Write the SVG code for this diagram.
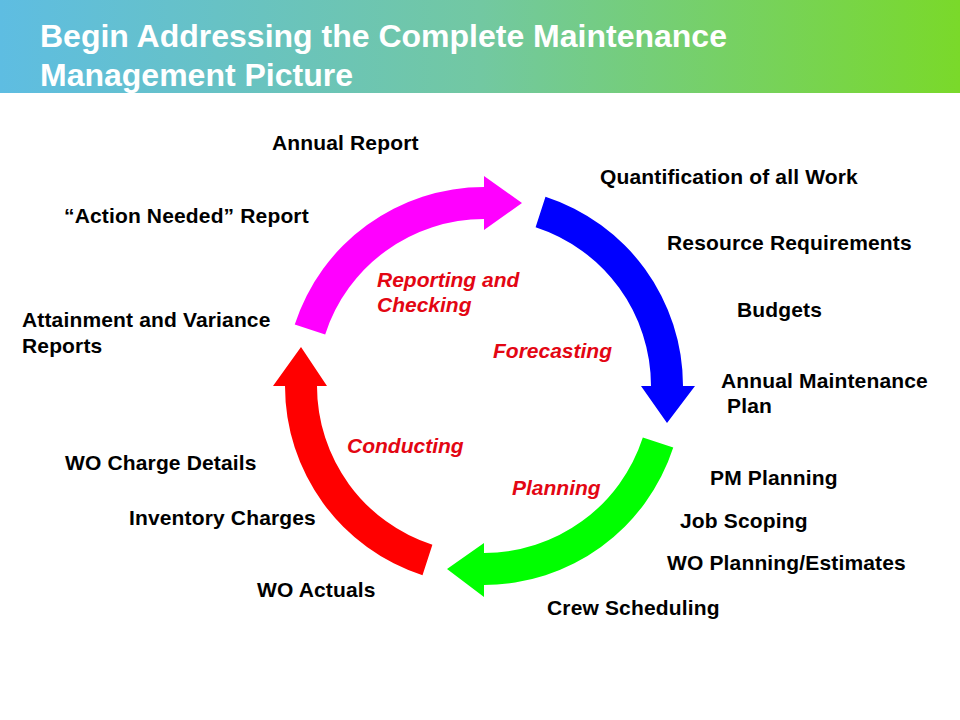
<svg xmlns="http://www.w3.org/2000/svg" width="960" height="720" viewBox="0 0 960 720">
<defs>
<linearGradient id="hdr" x1="0" y1="0" x2="1" y2="0">
<stop offset="0" stop-color="#5ebde2"/>
<stop offset="0.5" stop-color="#72c8a2"/>
<stop offset="1" stop-color="#7ad92a"/>
</linearGradient>
<style>
.t{font-family:"Liberation Sans",Arial,sans-serif;font-weight:bold;font-size:21px;letter-spacing:0.15px;fill:#000}
.s{font-family:"Liberation Sans",Arial,sans-serif;font-weight:bold;font-style:italic;font-size:21px;fill:#e30613}
.h{font-family:"Liberation Sans",Arial,sans-serif;font-weight:bold;font-size:32px;fill:#fff}
</style>
</defs>
<rect width="960" height="720" fill="#fff"/>
<g id="header">
<rect x="0" y="0" width="960" height="93" fill="url(#hdr)"/>
<text class="h" x="40" y="47">Begin Addressing the Complete Maintenance</text>
<text class="h" x="40" y="86">Management Picture</text>
</g>
<g id="connectors">
<path id="arrow-forecasting" fill="#0000ff" d="M545.49,196.74 A199,199 0 0 1 683,386 L695,386 L667,423 L641,386 L651,386 A167,167 0 0 0 535.61,227.17 Z"/>
<path id="arrow-planning" fill="#00ff00" d="M673.26,447.49 A199,199 0 0 1 484,585 L484,597 L447,569 L484,543 L484,553 A167,167 0 0 0 642.83,437.61 Z"/>
<path id="arrow-conducting" fill="#ff0000" d="M422.51,575.26 A199,199 0 0 1 285,386 L273,386 L301,347 L327,386 L317,386 A167,167 0 0 0 432.39,544.83 Z"/>
<path id="arrow-reporting" fill="#ff00ff" d="M294.74,324.51 A199,199 0 0 1 484,187 L484,176 L522,203 L484,230 L484,219 A167,167 0 0 0 325.17,334.39 Z"/>
</g>
<g id="stage-reporting"><text class="s" x="377" y="287">Reporting and</text><text class="s" x="377" y="312">Checking</text></g>
<g id="stage-forecasting"><text class="s" x="493" y="358">Forecasting</text></g>
<g id="stage-conducting"><text class="s" x="347" y="453">Conducting</text></g>
<g id="stage-planning"><text class="s" x="512" y="495">Planning</text></g>
<g id="item-annual-report"><text class="t" x="272" y="150">Annual Report</text></g>
<g id="item-quantification"><text class="t" x="600" y="184">Quantification of all Work</text></g>
<g id="item-action-needed"><text class="t" x="64" y="223">“Action Needed” Report</text></g>
<g id="item-resource"><text class="t" x="667" y="250">Resource Requirements</text></g>
<g id="item-budgets"><text class="t" x="737" y="317">Budgets</text></g>
<g id="item-attainment"><text class="t" x="22" y="327">Attainment and Variance</text><text class="t" x="22" y="353">Reports</text></g>
<g id="item-annual-plan"><text class="t" x="721" y="388">Annual Maintenance</text><text class="t" x="721" y="413" xml:space="preserve"> Plan</text></g>
<g id="item-wo-charge"><text class="t" x="65" y="470">WO Charge Details</text></g>
<g id="item-pm-planning"><text class="t" x="710" y="485">PM Planning</text></g>
<g id="item-inventory"><text class="t" x="129" y="525">Inventory Charges</text></g>
<g id="item-job-scoping"><text class="t" x="680" y="528">Job Scoping</text></g>
<g id="item-wo-planning"><text class="t" x="667" y="570">WO Planning/Estimates</text></g>
<g id="item-wo-actuals"><text class="t" x="257" y="597">WO Actuals</text></g>
<g id="item-crew"><text class="t" x="547" y="615">Crew Scheduling</text></g>
</svg>
